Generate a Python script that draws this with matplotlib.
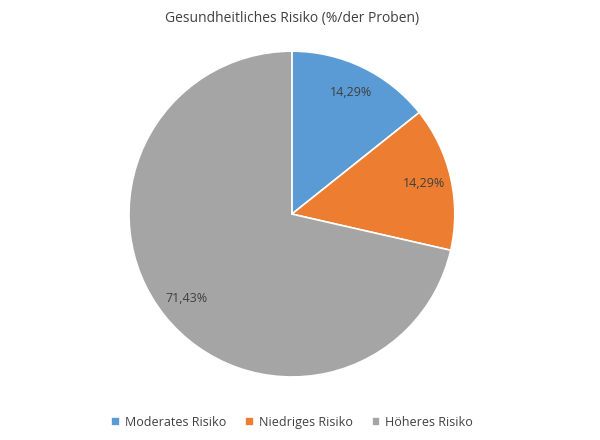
import matplotlib
matplotlib.use("Agg")
import matplotlib.pyplot as plt

plt.rcParams['font.family'] = ['Open Sans', 'DejaVu Sans']

categories = ["Moderates Risiko", "Niedriges Risiko", "Höheres Risiko"]
values = [1, 1, 5]
colors = ["#5B9BD5", "#ED7D31", "#A5A5A5"]

fig = plt.figure(figsize=(6, 4.4), dpi=100)
ax = fig.add_axes([0.215, 0.143, 0.543, 0.741])
wedges, texts, autotexts = ax.pie(
    values, colors=colors, startangle=90, counterclock=False,
    autopct=lambda p: f"{p:.2f}".replace(".", ","), pctdistance=0.83,
    wedgeprops=dict(edgecolor="white", linewidth=1.2),
    textprops=dict(fontsize=9, color="#404040"))
for t in autotexts:
    t.set_text(t.get_text() + "%")
ax.set_xlim(-1, 1)
ax.set_ylim(-1, 1)
ax.set_aspect("equal")
fig.text(0.487, 0.975, "Gesundheitliches Risiko (%/der Proben)", ha="center", va="top",
         fontsize=10, color="#404040")
fig.legend(wedges, categories, loc="center", bbox_to_anchor=(0.487, 0.04), ncol=3,
           frameon=False, fontsize=9, handlelength=0.7, handleheight=0.7,
           columnspacing=1.5, handletextpad=0.4, labelcolor="#404040")
fig.savefig("out.png", dpi=100, facecolor="white")
